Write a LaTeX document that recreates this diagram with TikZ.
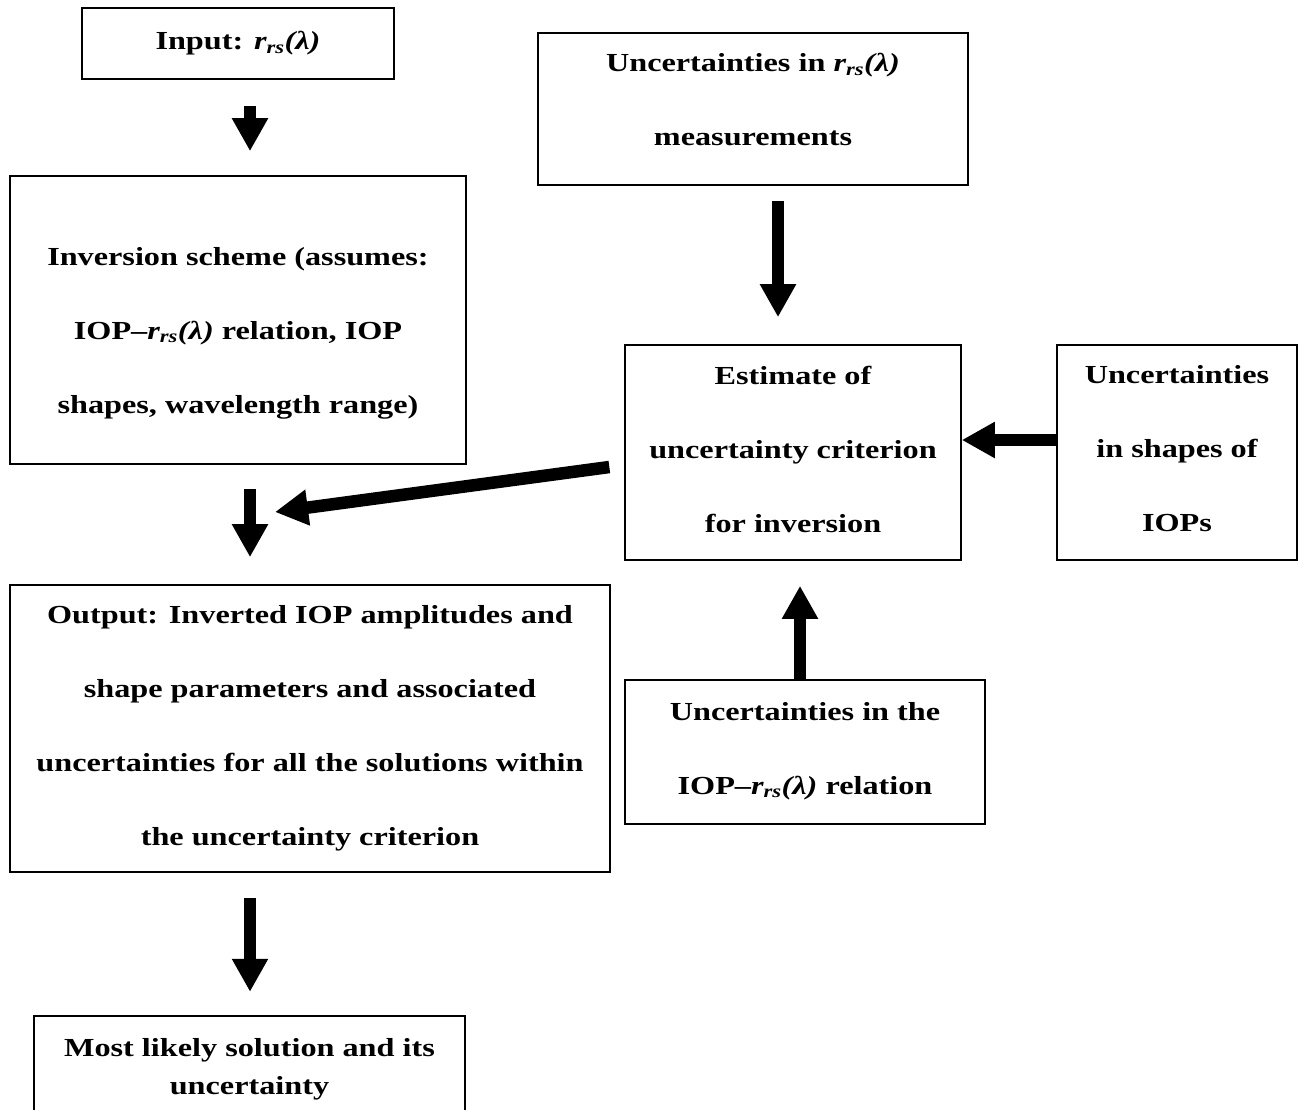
\documentclass[tikz,border=0pt]{standalone}
\usepackage{fontspec}
\setmainfont{Liberation Serif}[FakeStretch=1.24]
\usetikzlibrary{arrows.meta}
\newcommand{\rrs}{{\itshape r\textsubscript{rs}(λ)}}
\begin{document}
\begin{tikzpicture}[x=1pt,y=-1pt,
  frame/.style={draw,line width=1.6pt,inner sep=0pt},
  txt/.style={align=center,inner sep=0pt,font=\bfseries\fontsize{26}{74}\selectfont},
  blk/.style={line width=12.5pt,-{Triangle[width=34pt,length=33pt]}}]
\useasboundingbox (0,0) rectangle (1298,1109);
% boxes
\node[frame,minimum width=312pt,minimum height=71pt] (input) at (238,43.5) {};
\node[frame,minimum width=456pt,minimum height=288pt] (inv) at (238,320) {};
\node[frame,minimum width=430pt,minimum height=152pt] (meas) at (753,109) {};
\node[frame,minimum width=336pt,minimum height=215pt] (est) at (793,452.5) {};
\node[frame,minimum width=240pt,minimum height=215pt] (shp) at (1177,452.5) {};
\node[frame,minimum width=600pt,minimum height=287pt] (out) at (310,728.5) {};
\node[frame,minimum width=360pt,minimum height=144pt] (rel) at (805,752) {};
\node[inner sep=0pt,minimum width=431pt,minimum height=100pt] (fin) at (249.5,1066) {};
\draw[line width=1.6pt] (fin.south west) -- (fin.north west) -- (fin.north east) -- (fin.south east);
% texts
\node[txt] (input-t) at (input.center) {Input: \rrs};
\node[txt] (inv-t) at (238,333) {Inversion scheme (assumes:\\IOP–\rrs{} relation, IOP\\shapes, wavelength range)};
\node[txt] (meas-t) at (753,100) {Uncertainties in \rrs\\measurements};
\node[txt] (est-t) at (793,449) {Estimate of\\uncertainty criterion\\for inversion};
\node[txt] (shp-t) at (1177,449) {Uncertainties\\in shapes of\\IOPs};
\node[txt] (out-t) at (310,728) {Output: Inverted IOP amplitudes and\\shape parameters and associated\\uncertainties for all the solutions within\\the uncertainty criterion};
\node[txt] (rel-t) at (805,751) {Uncertainties in the\\IOP–\rrs{} relation};
\node[txt,font=\bfseries\fontsize{26}{38}\selectfont] (fin-t) at (249.5,1069) {Most likely solution and its\\uncertainty};
% arrows
\coordinate (tip4) at (275,512);
\draw[blk,shorten <=26pt,shorten >=24pt] ([xshift=12pt]input.south) -- ([xshift=12pt]input.south |- inv.north);
\draw[blk,shorten <=15pt,shorten >=27pt] ([xshift=25pt]meas.south) -- ([xshift=25pt]meas.south |- est.north);
\draw[blk] ([yshift=12.5pt]shp.west) -- ([yshift=12.5pt]est.east);
\draw[blk,shorten <=15pt] ([yshift=-12.5pt]est.west) -- (tip4);
\draw[blk,shorten <=24pt,shorten >=27pt] ([xshift=12pt]inv.south) -- ([xshift=12pt]inv.south |- out.north);
\draw[blk,shorten >=25pt] ([xshift=-5pt]rel.north) -- ([xshift=-5pt]rel.north |- est.south);
\draw[blk,shorten <=25pt,shorten >=24pt] ([xshift=-60pt]out.south) -- ([xshift=-60pt]out.south |- fin.north);
\end{tikzpicture}
\end{document}
